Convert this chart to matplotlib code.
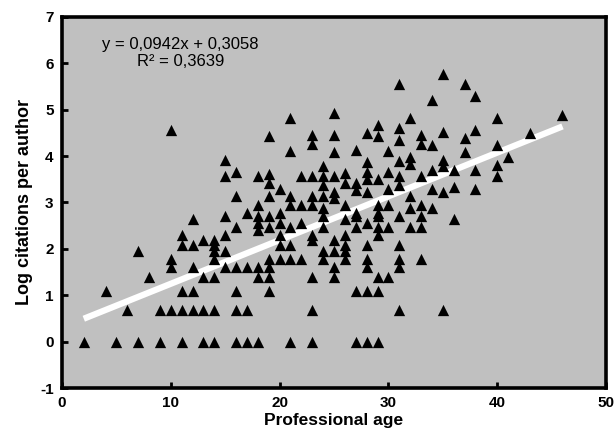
import matplotlib
matplotlib.use("Agg")
import matplotlib.pyplot as plt
import numpy as np

plt.rcParams["font.family"] = ["Liberation Sans", "DejaVu Sans"]
plt.rcParams["axes.unicode_minus"] = False

# professional age (years) and log citations per author, one row per age
age = (
    [2] + [4] + [5] + [6] + [7] * 2 + [8] + [9] * 2
    + [10] * 4 + [11] * 5 + [12] * 5 + [13] * 4 + [14] * 7
    + [15] * 6 + [16] * 7 + [17] * 4 + [18] * 8 + [19] * 10
    + [20] * 6 + [21] * 8 + [22] * 4 + [23] * 10 + [24] * 9
    + [25] * 10 + [26] * 8 + [27] * 8 + [28] * 11 + [29] * 11
    + [30] * 6 + [31] * 11 + [32] * 6 + [33] * 7 + [34] * 5
    + [35] * 6 + [36] * 3 + [37] * 3 + [38] * 4 + [40] * 4
    + [41] + [43] + [46]
)
log_cit = [
    0.00,
    1.10,
    0.00,
    0.69,
    0.00, 1.95,
    1.39,
    0.00, 0.69,
    0.69, 1.61, 1.79, 4.56,
    0.00, 0.69, 1.10, 2.08, 2.30,
    0.69, 1.10, 1.61, 2.08, 2.64,
    0.00, 0.69, 1.39, 2.20,
    0.00, 0.69, 1.39, 1.79, 1.95, 2.08, 2.20,
    1.61, 1.95, 2.30, 2.71, 3.58, 3.91,
    0.00, 0.69, 1.10, 1.61, 2.48, 3.14, 3.66,
    0.00, 0.69, 1.61, 2.77,
    0.00, 1.39, 1.61, 2.40, 2.56, 2.71, 2.94, 3.58,
    1.10, 1.39, 1.61, 1.79, 2.48, 2.71, 3.14, 3.43, 3.61, 4.43,
    1.79, 2.08, 2.30, 2.56, 2.77, 3.30,
    0.00, 1.79, 2.08, 2.48, 2.94, 3.14, 4.11, 4.82,
    1.79, 2.56, 2.94, 3.58,
    0.00, 0.69, 1.39, 2.20, 2.30, 2.94, 3.14, 3.58, 4.26, 4.45,
    1.79, 1.95, 2.48, 2.71, 2.89, 3.14, 3.37, 3.56, 3.78,
    1.39, 1.61, 1.95, 2.20, 3.09, 3.22, 3.58, 4.09, 4.45, 4.92,
    1.79, 1.95, 2.08, 2.30, 2.64, 2.94, 3.43, 3.64,
    0.00, 1.10, 2.48, 2.71, 2.77, 3.26, 3.43, 4.14,
    0.00, 1.10, 1.61, 1.79, 2.08, 2.56, 3.22, 3.50, 3.66, 3.87, 4.50,
    0.00, 1.10, 1.39, 2.30, 2.48, 2.71, 2.77, 2.94, 3.50, 4.43, 4.67,
    1.39, 2.48, 2.94, 3.30, 3.66, 4.11,
    0.69, 1.61, 1.79, 2.08, 2.71, 3.37, 3.58, 3.89, 4.34, 4.60, 5.56,
    2.48, 2.89, 3.14, 3.83, 3.99, 4.82,
    1.79, 2.48, 2.71, 2.94, 3.56, 4.26, 4.45,
    2.89, 3.30, 3.71, 4.23, 5.20,
    0.69, 3.22, 3.78, 3.91, 4.52, 5.76,
    2.64, 3.33, 3.71,
    4.09, 4.38, 5.56,
    3.30, 3.71, 4.56, 5.30,
    3.58, 3.81, 4.23, 4.82,
    3.99,
    4.49,
    4.88,
]

slope     = 0.0942
intercept = 0.3058
r2_text   = "R² = 0,3639"
eq_text   = "y = 0,0942x + 0,3058"

fig = plt.figure(figsize=(6.14, 4.44), dpi=100)
ax = fig.add_axes([0.101, 0.126, 0.886, 0.836])
ax.set_facecolor("#c0c0c0")

ax.scatter(age, log_cit, marker="^", s=66, color="black", linewidths=0, zorder=3)

fit_x = np.array([min(age), max(age)])
ax.plot(fit_x, slope * fit_x + intercept, color="white", linewidth=4.5,
        solid_capstyle="butt", zorder=2)

ax.set_xlim(0, 50)
ax.set_ylim(-1, 7)
ax.set_xticks(range(0, 51, 10))
ax.set_yticks(range(-1, 8))

for s in ax.spines.values():
    s.set_linewidth(2.6)
ax.tick_params(direction="in", length=4, width=2, labelsize=11, pad=6)
for lab in ax.get_xticklabels() + ax.get_yticklabels():
    lab.set_fontweight("bold")

ax.set_xlabel("Professional age", fontsize=12.5, fontweight="bold", labelpad=2)
ax.set_ylabel("Log citations per author", fontsize=13, fontweight="bold", labelpad=5)

ax.text(0.218, 0.925, eq_text, transform=ax.transAxes, ha="center", va="center", fontsize=12)
ax.text(0.218, 0.879, r2_text, transform=ax.transAxes, ha="center", va="center", fontsize=12)

fig.savefig("out.png", dpi=100)
